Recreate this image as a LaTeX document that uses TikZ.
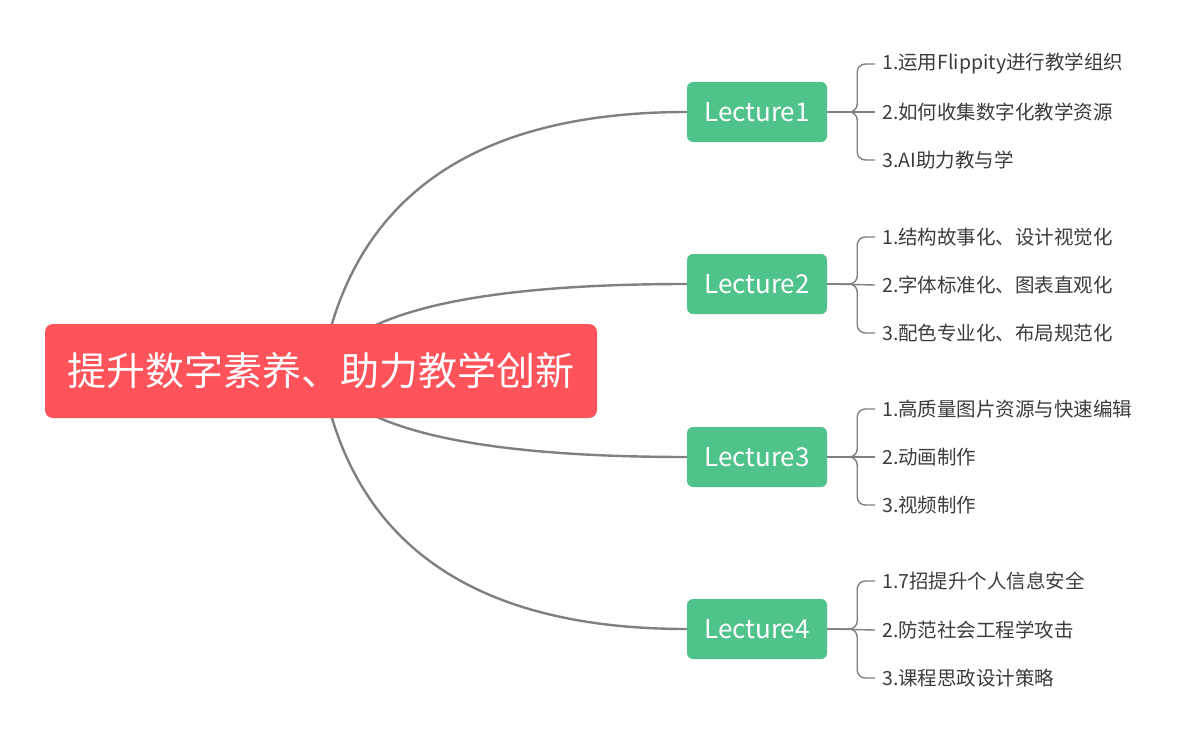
\documentclass[tikz,border=0pt]{standalone}
\usepackage{fontspec}
\setmainfont{Noto Sans CJK SC}
\usetikzlibrary{backgrounds,calc}
\definecolor{rootred}{RGB}{255,83,91}
\definecolor{lecgreen}{RGB}{80,195,140}
\definecolor{linegray}{RGB}{128,128,128}
\definecolor{itemgray}{RGB}{60,60,60}
\begin{document}
\begin{tikzpicture}[x=1pt, y=-1pt,
  rootbox/.style={shape=rectangle, rounded corners=8pt, fill=rootred, text=white, minimum width=552pt, minimum height=94pt, inner sep=0pt, font=\fontsize{39}{46}\selectfont},
  lecbox/.style={shape=rectangle, rounded corners=6pt, fill=lecgreen, text=white, minimum width=140pt, minimum height=60pt, inner sep=0pt, font=\fontsize{26}{30}\selectfont},
  itemtext/.style={anchor=west, text=itemgray, inner sep=0pt, font=\fontsize{19.5}{23}\selectfont},
  branch/.style={draw=linegray, line width=2.4pt},
  twig/.style={draw=linegray, line width=1.4pt, rounded corners=8pt}]
\useasboundingbox (0,0) rectangle (1185,741);
% central topic
\node[rootbox] (root) at (321,371) {提升数字素养、助力教学创新};
\coordinate (hub) at (365,371);
% lectures
\node[lecbox] (L1) at (757,112) {Lecture1};
\node[lecbox] (L2) at (757,284) {Lecture2};
\node[lecbox] (L3) at (757,457) {Lecture3};
\node[lecbox] (L4) at (757,629) {Lecture4};
% items
\node[itemtext] (L1a) at (882,64) {1.运用Flippity进行教学组织};
\node[itemtext] (L1b) at (882,112) {2.如何收集数字化教学资源};
\node[itemtext] (L1c) at (882,160) {3.AI助力教与学};
\node[itemtext] (L2a) at (882,237) {1.结构故事化、设计视觉化};
\node[itemtext] (L2b) at (882,285) {2.字体标准化、图表直观化};
\node[itemtext] (L2c) at (882,333) {3.配色专业化、布局规范化};
\node[itemtext] (L3a) at (882,409) {1.高质量图片资源与快速编辑};
\node[itemtext] (L3b) at (882,457) {2.动画制作};
\node[itemtext] (L3c) at (882,505) {3.视频制作};
\node[itemtext] (L4a) at (882,581) {1.7招提升个人信息安全};
\node[itemtext] (L4b) at (882,630) {2.防范社会工程学攻击};
\node[itemtext] (L4c) at (882,678) {3.课程思政设计策略};
% bend points of the branches
\coordinate (L1k) at (hub |- L1.west);
\coordinate (L2k) at (hub |- L2.west);
\coordinate (L3k) at (hub |- L3.west);
\coordinate (L4k) at (hub |- L4.west);
% brace joints
\coordinate (L1j) at ([xshift=30pt]L1.east);
\coordinate (L2j) at ([xshift=30pt]L2.east);
\coordinate (L3j) at ([xshift=30pt]L3.east);
\coordinate (L4j) at ([xshift=30pt]L4.east);
\begin{scope}[on background layer]
\draw[branch] (root.center) .. controls ($(root.center)!2/3!(L1k)$) and ($(L1.west)!2/3!(L1k)$) .. (L1.west);
\draw[branch] (root.center) .. controls ($(root.center)!2/3!(L2k)$) and ($(L2.west)!2/3!(L2k)$) .. (L2.west);
\draw[branch] (root.center) .. controls ($(root.center)!2/3!(L3k)$) and ($(L3.west)!2/3!(L3k)$) .. (L3.west);
\draw[branch] (root.center) .. controls ($(root.center)!2/3!(L4k)$) and ($(L4.west)!2/3!(L4k)$) .. (L4.west);
\end{scope}
% braces
\draw[twig] (L1.east) -- ([xshift=-7pt]L1b.west);
\draw[twig] (L1.east) -| (L1j |- L1a.west) -- ([xshift=-7pt]L1a.west);
\draw[twig] (L1.east) -| (L1j |- L1c.west) -- ([xshift=-7pt]L1c.west);
\draw[twig] (L2.east) -- ([xshift=-7pt]L2b.west);
\draw[twig] (L2.east) -| (L2j |- L2a.west) -- ([xshift=-7pt]L2a.west);
\draw[twig] (L2.east) -| (L2j |- L2c.west) -- ([xshift=-7pt]L2c.west);
\draw[twig] (L3.east) -- ([xshift=-7pt]L3b.west);
\draw[twig] (L3.east) -| (L3j |- L3a.west) -- ([xshift=-7pt]L3a.west);
\draw[twig] (L3.east) -| (L3j |- L3c.west) -- ([xshift=-7pt]L3c.west);
\draw[twig] (L4.east) -- ([xshift=-7pt]L4b.west);
\draw[twig] (L4.east) -| (L4j |- L4a.west) -- ([xshift=-7pt]L4a.west);
\draw[twig] (L4.east) -| (L4j |- L4c.west) -- ([xshift=-7pt]L4c.west);
\end{tikzpicture}
\end{document}
